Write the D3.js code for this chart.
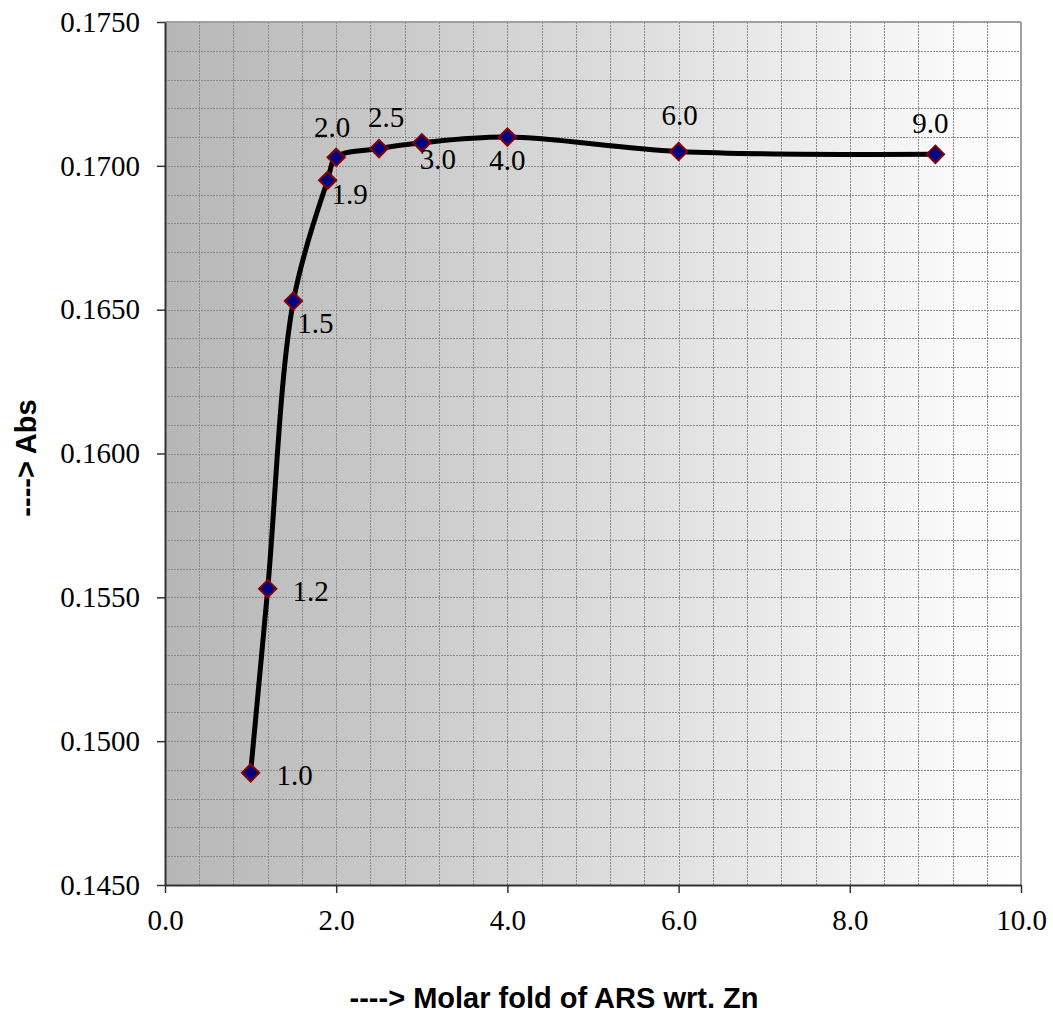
<!DOCTYPE html>
<html>
<head>
<meta charset="utf-8">
<script src="https://cdn.jsdelivr.net/npm/d3@7"></script>
<style>
  body { margin: 0; background: #fff; }
  .tick-label { font-family: "Liberation Serif", "Times New Roman", serif; font-size: 29px; fill: #000; }
  .axis-title { font-family: "Liberation Sans", Arial, sans-serif; font-size: 29px; font-weight: bold; fill: #000; }
</style>
</head>
<body>
<div class="chart"></div>
<script>
// data
const foldValues = [1.0, 1.2, 1.5, 1.9, 2.0, 2.5, 3.0, 4.0, 6.0, 9.0];
const absValues = [0.1489, 0.1553, 0.1653, 0.1695, 0.1703, 0.1706, 0.1708, 0.1710, 0.1705, 0.1704];
const xTicks = [0, 2, 4, 6, 8, 10];
const yTicks = [0.145, 0.150, 0.155, 0.160, 0.165, 0.170, 0.175];
const xTitle = "----> Molar fold of ARS wrt. Zn";
const yTitle = "----> Abs";

// pixel offset of each point label from its marker
const labelOffset = [[44, 12], [43, 12], [22, 32], [22, 24], [-4, -20], [7, -22], [16, 26], [0, 33], [1, -26], [-5, -21]];

const W = 1053, H = 1022;
const margin = { top: 22, right: 32, bottom: 137, left: 165 };
const pw = W - margin.left - margin.right;
const ph = H - margin.top - margin.bottom;

const svg = d3.select(".chart").append("svg")
  .attr("width", W)
  .attr("height", H);

const defs = svg.append("defs");
const grad = defs.append("linearGradient")
  .attr("id", "bg")
  .attr("x1", "0%").attr("x2", "100%")
  .attr("y1", "0%").attr("y2", "0%");
grad.append("stop").attr("offset", "0%").attr("stop-color", "#b6b6b6");
grad.append("stop").attr("offset", "100%").attr("stop-color", "#ffffff");

const g = svg.append("g")
  .attr("transform", "translate(" + margin.left + "," + margin.top + ")");

const x = d3.scaleLinear().domain([0, 10]).range([0, pw]);
const y = d3.scaleLinear().domain([0.145, 0.175]).range([ph, 0]);

g.append("rect")
  .attr("width", pw)
  .attr("height", ph)
  .attr("fill", "url(#bg)");

// grid lines
const xGrid = d3.range(0, 10.001, 0.4);
const yGrid = d3.range(0.145, 0.17501, 0.001);

g.selectAll(".vgrid")
  .data(xGrid)
  .enter()
  .append("line")
  .attr("x1", d => Math.round(x(d)) + 0.5)
  .attr("x2", d => Math.round(x(d)) + 0.5)
  .attr("y1", 0)
  .attr("y2", ph)
  .attr("stroke", "#8a8a8a")
  .attr("stroke-width", 1)
  .attr("stroke-dasharray", "2,1");

g.selectAll(".hgrid")
  .data(yGrid)
  .enter()
  .append("line")
  .attr("x1", 0)
  .attr("x2", pw)
  .attr("y1", d => Math.round(y(d)) + 0.5)
  .attr("y2", d => Math.round(y(d)) + 0.5)
  .attr("stroke", "#8a8a8a")
  .attr("stroke-width", 1)
  .attr("stroke-dasharray", "2,1");

// frame: grey top and right, dark left and bottom
g.append("line")
  .attr("x1", 0).attr("x2", pw).attr("y1", 0).attr("y2", 0)
  .attr("stroke", "#a0a0a0").attr("stroke-width", 2);
g.append("line")
  .attr("x1", pw).attr("x2", pw).attr("y1", 0).attr("y2", ph)
  .attr("stroke", "#a0a0a0").attr("stroke-width", 2);

// axes
const xAxis = d3.axisBottom(x)
  .tickValues(xTicks)
  .tickSize(8)
  .tickSizeOuter(0)
  .tickPadding(16)
  .tickFormat(d3.format(".1f"));
const yAxis = d3.axisLeft(y)
  .tickValues(yTicks)
  .tickSize(8)
  .tickSizeOuter(0)
  .tickPadding(17)
  .tickFormat(d3.format(".4f"));

const gx = g.append("g")
  .attr("transform", "translate(0," + ph + ")")
  .call(xAxis);
const gy = g.append("g").call(yAxis);

[gx, gy].forEach(a => {
  a.select(".domain").attr("stroke", "#333").attr("stroke-width", 2);
  a.selectAll(".tick line").attr("stroke", "#333").attr("stroke-width", 1.5);
  a.selectAll(".tick text")
    .attr("class", "tick-label");
});

// smoothed line
const pts = foldValues.map((f, i) => ({ fold: f, abs: absValues[i], off: labelOffset[i] }));

const line = d3.line()
  .x(d => x(d.fold))
  .y(d => y(d.abs))
  .curve(d3.curveCatmullRom.alpha(0.5));

g.append("path")
  .datum(pts)
  .attr("d", line)
  .attr("fill", "none")
  .attr("stroke", "#000")
  .attr("stroke-width", 5)
  .attr("stroke-linejoin", "round");

// diamond markers
const diamond = d3.symbol().type(d3.symbolSquare).size(150);
g.selectAll(".marker")
  .data(pts)
  .enter()
  .append("path")
  .attr("d", diamond)
  .attr("transform", d => "translate(" + x(d.fold) + "," + y(d.abs) + ") rotate(45)")
  .attr("fill", "#000080")
  .attr("stroke", "#8b0000")
  .attr("stroke-width", 2);

// point labels
g.selectAll(".pt-label")
  .data(pts)
  .enter()
  .append("text")
  .attr("class", "tick-label")
  .attr("text-anchor", "middle")
  .attr("x", d => x(d.fold) + d.off[0])
  .attr("y", d => y(d.abs) + d.off[1])
  .text(d => d.fold.toFixed(1));

// axis titles
svg.append("text")
  .attr("class", "axis-title")
  .attr("text-anchor", "middle")
  .attr("x", 554)
  .attr("y", 1008)
  .text(xTitle);

svg.append("text")
  .attr("class", "axis-title")
  .attr("text-anchor", "middle")
  .attr("transform", "translate(36,458) rotate(-90)")
  .text(yTitle);
</script>
</body>
</html>
